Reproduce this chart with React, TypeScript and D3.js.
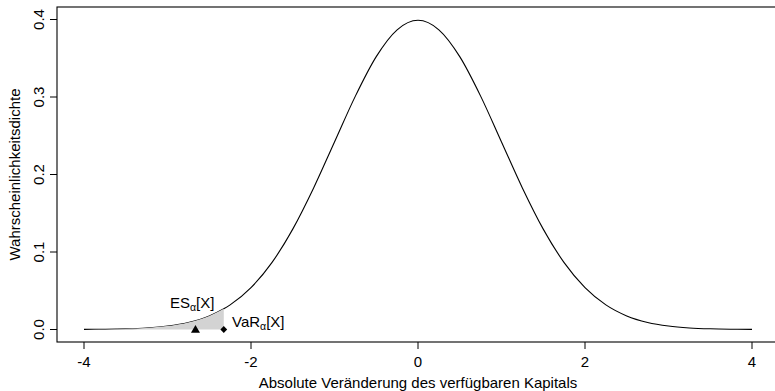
import React from "react";
import * as d3 from "d3";

const densityX = [-4, -3.75, -3.5, -3.25, -3, -2.75, -2.5, -2.326, -2.25, -2, -1.75, -1.5, -1.25, -1, -0.75, -0.5, -0.25, 0, 0.25, 0.5, 0.75, 1, 1.25, 1.5, 1.75, 2, 2.25, 2.5, 2.75, 3, 3.25, 3.5, 3.75, 4];
const densityY = [0.000134, 0.000353, 0.000873, 0.002029, 0.004432, 0.009094, 0.017528, 0.02667, 0.03174, 0.053991, 0.086277, 0.129518, 0.182649, 0.241971, 0.301137, 0.352065, 0.386668, 0.398942, 0.386668, 0.352065, 0.301137, 0.241971, 0.182649, 0.129518, 0.086277, 0.053991, 0.03174, 0.017528, 0.009094, 0.004432, 0.002029, 0.000873, 0.000353, 0.000134];
const varValue = -2.326;
const esValue = -2.665;
const xTicks = [-4, -2, 0, 2, 4];
const yTicks = [0, 0.1, 0.2, 0.3, 0.4];
const xTitle = "Absolute Veränderung des verfügbaren Kapitals";
const yTitle = "Wahrscheinlichkeitsdichte";

export default function App() {
  const W = 775, H = 391;
  const left = 57, top = 7, bottom = 342;
  const x = d3.scaleLinear().domain([-4, 4]).range([84, 752]);
  const y = d3.scaleLinear().domain([0, 0.4]).range([329.5, 19.5]);
  const right = x(4.32);
  const pts = densityX.map((v, i) => [v, densityY[i]] as [number, number]);
  const line = d3.line<[number, number]>().x(d => x(d[0])).y(d => y(d[1])).curve(d3.curveMonotoneX);
  const shadePts = pts.filter(d => d[0] <= varValue + 1e-9);
  const area = d3.area<[number, number]>().x(d => x(d[0])).y0(y(0)).y1(d => y(d[1])).curve(d3.curveMonotoneX);
  const font = "'Liberation Sans', Arial, Helvetica, sans-serif";
  const fs = 15;
  const ex = x(esValue), vx = x(varValue), y0 = y(0);
  return (
    <svg width={W} height={H} style={{ position: "absolute", left: 0, top: 0, background: "#fff" }} fontFamily={font}>
      <path d={line(pts) ?? ""} fill="none" stroke="#000" strokeWidth={1.1} />
      <path d={area(shadePts) ?? ""} fill="#d3d3d3" stroke="none" />
      <path d={`M${ex - 4.5},${y0 + 3.2} L${ex + 4.5},${y0 + 3.2} L${ex},${y0 - 4.6} Z`} fill="#000" />
      <path d={`M${vx},${y0 - 3.4} L${vx + 3.4},${y0} L${vx},${y0 + 3.4} L${vx - 3.4},${y0} Z`} fill="#000" />
      <text x={170} y={308} fontSize={fs}>ES<tspan fontSize={10.5} dy={3}>α</tspan><tspan dy={-3}>[X]</tspan></text>
      <text x={232} y={327} fontSize={fs}>VaR<tspan fontSize={10.5} dy={3}>α</tspan><tspan dy={-3}>[X]</tspan></text>
      <rect x={left} y={top} width={right - left} height={bottom - top} fill="none" stroke="#000" strokeWidth={1.1} />
      {xTicks.map(t => (
        <g key={"x" + t}>
          <line x1={x(t)} x2={x(t)} y1={bottom} y2={bottom + 7} stroke="#000" />
          <text x={x(t)} y={367} fontSize={fs} textAnchor="middle">{t}</text>
        </g>
      ))}
      {yTicks.map(t => (
        <g key={"y" + t}>
          <line x1={left - 7} x2={left} y1={y(t)} y2={y(t)} stroke="#000" />
          <text transform={`translate(44,${y(t)}) rotate(-90)`} fontSize={fs} textAnchor="middle">{t.toFixed(1)}</text>
        </g>
      ))}
      <text x={418} y={388} fontSize={fs} textAnchor="middle">{xTitle}</text>
      <text transform={`translate(20,${(top + bottom) / 2}) rotate(-90)`} fontSize={fs} textAnchor="middle">{yTitle}</text>
    </svg>
  );
}
